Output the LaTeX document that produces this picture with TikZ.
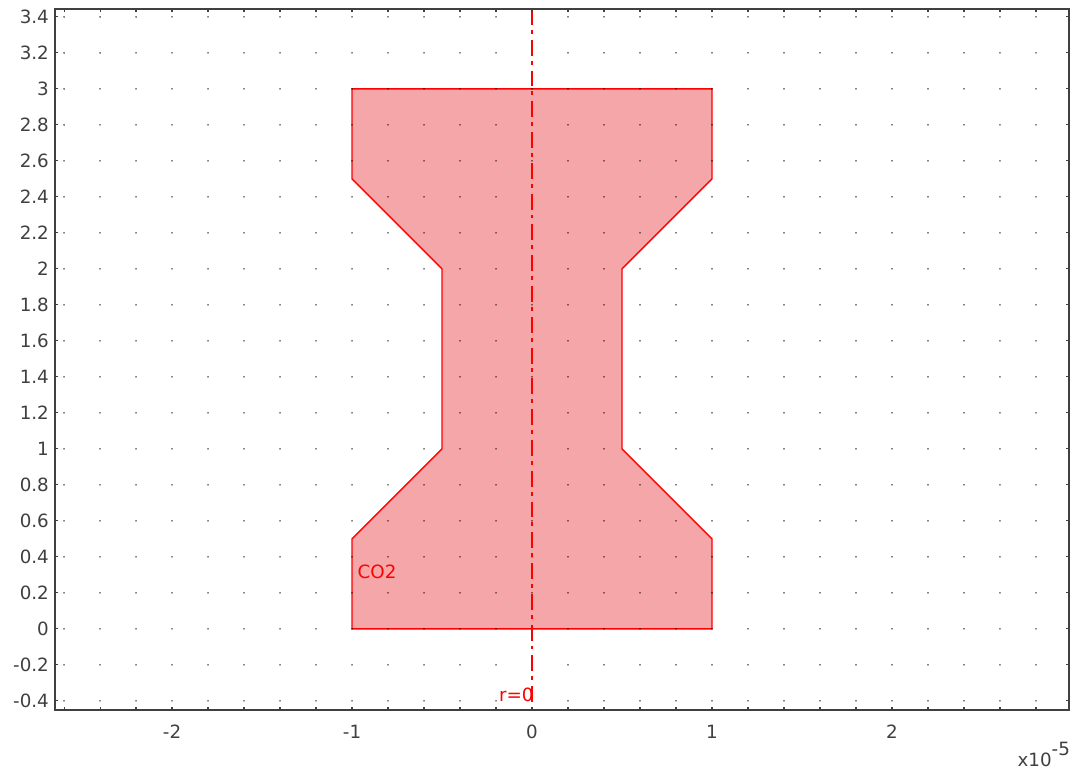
\documentclass[tikz,border=0pt]{standalone}
\usepackage{fontspec}
\setmainfont{DejaVu Sans}
\definecolor{geomfill}{RGB}{245,166,168}
\definecolor{axisgray}{RGB}{64,64,64}

\begin{document}
\begin{tikzpicture}[x=4.5cm,y=4.5cm,lbl/.style={font=\fontsize{13}{15}\selectfont, text=axisgray, inner sep=0pt},geom/.style={draw=red, fill=geomfill, line width=1pt, line join=miter},symaxis/.style={draw=red, line width=1pt, dash pattern=on 11.3pt off 3.5pt on 2.8pt off 4.3pt},frame/.style={draw=axisgray, line width=1pt},gdot/.style={fill=black}]
\useasboundingbox[fill=white] (-2.956,-0.789) rectangle (3.028,3.494);
\draw[geom] (-1,0) -- (1,0) -- (1,0.5) -- (0.5,1) -- (0.5,2) -- (1,2.5) -- (1,3) -- (-1,3) -- (-1,2.5) -- (-0.5,2) -- (-0.5,1) -- (-1,0.5) -- cycle;
\foreach \i in {-13,...,14} {\foreach \j in {-2,...,17} {\fill[gdot] (\i/5,\j/5) circle (0.55pt);}}
\coordinate (axtop) at (0,3.444);\coordinate (axbot) at (0,-0.45);
\draw[symaxis] (axtop) -- (axbot);
\draw[frame] (-2.65,-0.45) rectangle (2.983,3.444);
\foreach \i in {-13,...,14} {\draw[frame, line width=0.8pt] (\i/5,-0.45) -- ++(0,2.2pt);\draw[frame, line width=0.8pt] (\i/5,3.444) -- ++(0,-2.2pt);}
\foreach \j in {-2,...,17} {\draw[frame, line width=0.8pt] (-2.65,\j/5) -- ++(2.2pt,0);\draw[frame, line width=0.8pt] (2.983,\j/5) -- ++(-2.2pt,0);}
\foreach \y in {-0.4,-0.2,0,0.2,0.4,0.6,0.8,1,1.2,1.4,1.6,1.8,2,2.2,2.4,2.6,2.8,3,3.2,3.4} {\node[lbl, anchor=east] (ylab\y) at (-2.683,\y) {\y};}
\foreach \x in {-2,-1,0,1,2} {\node[lbl, anchor=base] (xlab\x) at (\x,-0.611) {\x};}
\node[lbl, anchor=base east] (expo) at (2.99,-0.767) {x10\raisebox{0.6em}{-5}};
\node[lbl, text=red, anchor=west] (co2) at (-0.97,0.317) {CO2};
\node[lbl, text=red, anchor=base east] (rzero) at (0.01,-0.406) {r=0};
\end{tikzpicture}
\end{document}
